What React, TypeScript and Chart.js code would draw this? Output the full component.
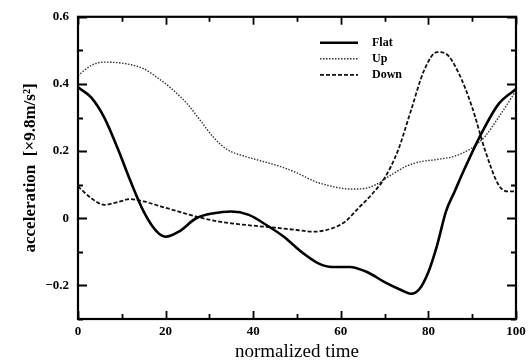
import React, { useEffect, useRef } from "react";
import { Chart, registerables } from "chart.js";

Chart.register(...registerables);

// ---- data ----
const flatT = [0, 3, 6, 9, 12, 15, 18, 20, 23, 27, 31, 35, 39, 43, 47, 51, 55, 58, 62, 66, 70, 74, 76, 78, 80, 82, 84, 86, 88, 92, 96, 100];
const flatV = [0.39, 0.36, 0.3, 0.21, 0.11, 0.02, -0.04, -0.055, -0.04, 0.0, 0.015, 0.02, 0.01, -0.02, -0.055, -0.1, -0.135, -0.145, -0.145, -0.16, -0.19, -0.215, -0.225, -0.21, -0.16, -0.08, 0.02, 0.08, 0.14, 0.25, 0.34, 0.385];

const upT = [0, 3, 6, 11, 15, 18, 21, 25, 28, 31, 34, 38, 42, 46, 50, 54, 58, 62, 65, 68, 71, 75, 78, 82, 86, 90, 93, 96, 100];
const upV = [0.425, 0.455, 0.465, 0.46, 0.445, 0.42, 0.39, 0.34, 0.29, 0.24, 0.205, 0.185, 0.17, 0.155, 0.135, 0.11, 0.095, 0.087, 0.088, 0.1, 0.125, 0.155, 0.168, 0.175, 0.185, 0.21, 0.245, 0.3, 0.38];

const downT = [0, 3, 6, 9, 12, 15, 19, 23, 27, 31, 35, 40, 45, 50, 54, 58, 61, 64, 67, 70, 73, 76, 79, 82, 84, 87, 90, 93, 96, 98, 100];
const downV = [0.095, 0.06, 0.04, 0.048, 0.057, 0.05, 0.035, 0.02, 0.005, -0.007, -0.015, -0.022, -0.028, -0.035, -0.04, -0.03, -0.01, 0.03, 0.07, 0.12, 0.2, 0.32, 0.44, 0.495, 0.49, 0.43, 0.33, 0.2, 0.1, 0.08, 0.08];

const seriesNames = ["Flat", "Up", "Down"];
const xTickLabels = [0, 20, 40, 60, 80, 100];
const yTickLabels = [-0.2, 0, 0.2, 0.4, 0.6];
const xMinorTicks = [0, 10, 20, 30, 40, 50, 60, 70, 80, 90, 100];
const yMinorTicks = [-0.3, -0.2, -0.1, 0, 0.1, 0.2, 0.3, 0.4, 0.5, 0.6];

const FONT = "'Liberation Serif', 'DejaVu Serif', serif";

const toPts = (t: number[], v: number[]) => t.map((x, i) => ({ x, y: v[i] }));

const framePlugin = {
  id: "frameTicks",
  afterDraw(chart: any) {
    const { ctx, chartArea } = chart;
    const { left, right, top, bottom } = chartArea;
    const xs = chart.scales.x;
    const ys = chart.scales.y;
    ctx.save();
    ctx.strokeStyle = "#000";
    ctx.lineWidth = 2.2;
    ctx.strokeRect(left, top, right - left, bottom - top);
    ctx.lineWidth = 1.8;
    ctx.beginPath();
    xMinorTicks.forEach((t) => {
      const major = t % 20 === 0;
      const len = major ? 8 : 5;
      const px = Math.round(xs.getPixelForValue(t)) + 0.5;
      ctx.moveTo(px, bottom);
      ctx.lineTo(px, bottom - len);
      ctx.moveTo(px, top);
      ctx.lineTo(px, top + len);
    });
    yMinorTicks.forEach((v) => {
      const major = Math.abs(Math.round(v * 10)) % 2 === 0;
      const len = major ? 9 : 5;
      const py = Math.round(ys.getPixelForValue(v)) + 0.5;
      ctx.moveTo(left, py);
      ctx.lineTo(left + len, py);
      ctx.moveTo(right, py);
      ctx.lineTo(right - len, py);
    });
    ctx.stroke();

    // legend
    const lx0 = left + 242;
    const lx1 = left + 280;
    const tx = left + 294;
    const rowY = [top + 26, top + 42, top + 58];
    chart.data.datasets.forEach((ds: any, i: number) => {
      ctx.beginPath();
      ctx.setLineDash(ds.borderDash || []);
      ctx.lineWidth = ds.borderWidth;
      ctx.strokeStyle = ds.borderColor;
      ctx.moveTo(lx0, rowY[i]);
      ctx.lineTo(lx1, rowY[i]);
      ctx.stroke();
      ctx.setLineDash([]);
      ctx.fillStyle = "#000";
      ctx.font = `bold 12px ${FONT}`;
      ctx.textBaseline = "middle";
      ctx.textAlign = "left";
      ctx.fillText(seriesNames[i], tx, rowY[i]);
    });
    ctx.restore();
  },
};

export default function App() {
  const ref = useRef<HTMLCanvasElement | null>(null);
  useEffect(() => {
    if (!ref.current) return;
    const chart = new Chart(ref.current, {
      type: "line",
      data: {
        datasets: [
          {
            label: seriesNames[0],
            data: toPts(flatT, flatV),
            borderColor: "#000",
            borderWidth: 2.6,
            pointRadius: 0,
            cubicInterpolationMode: "monotone",
            fill: false,
          },
          {
            label: seriesNames[1],
            data: toPts(upT, upV),
            borderColor: "#333",
            borderWidth: 1.4,
            borderDash: [1.5, 1.5],
            pointRadius: 0,
            cubicInterpolationMode: "monotone",
            fill: false,
          },
          {
            label: seriesNames[2],
            data: toPts(downT, downV),
            borderColor: "#111",
            borderWidth: 1.8,
            borderDash: [4, 2],
            pointRadius: 0,
            cubicInterpolationMode: "monotone",
            fill: false,
          },
        ],
      },
      options: {
        animation: false,
        responsive: true,
        maintainAspectRatio: false,
        layout: { padding: { top: 8, right: 15, left: 0, bottom: 0 } },
        plugins: { legend: { display: false }, tooltip: { enabled: false } },
        scales: {
          x: {
            type: "linear",
            min: 0,
            max: 100,
            grid: { display: false, drawTicks: false },
            border: { display: false },
            afterBuildTicks: (s: any) => {
              s.ticks = xTickLabels.map((v) => ({ value: v }));
            },
            afterFit: (s: any) => {
              s.height = 44;
            },
            ticks: {
              color: "#000",
              padding: 5,
              maxRotation: 0,
              font: { family: FONT, size: 13, weight: "bold" },
              callback: (v: any) => String(v),
            },
            title: {
              display: true,
              text: "normalized time",
              color: "#000",
              font: { family: FONT, size: 19 },
              padding: { top: 0, bottom: 0 },
            },
          },
          y: {
            type: "linear",
            min: -0.3,
            max: 0.6,
            grid: { display: false, drawTicks: false },
            border: { display: false },
            afterBuildTicks: (s: any) => {
              s.ticks = yTickLabels.map((v) => ({ value: v }));
            },
            afterFit: (s: any) => {
              s.width = 78;
            },
            ticks: {
              color: "#000",
              padding: 9,
              font: { family: FONT, size: 13, weight: "bold" },
              callback: (v: any) => {
                const n = Number(v);
                if (Math.abs(n) < 1e-9) return "0";
                const s = n.toFixed(1);
                return n < 0 ? "\u2212" + s.slice(1) : s;
              },
            },
            title: {
              display: true,
              text: "acceleration  [\u00d79.8m/s\u00b2]",
              color: "#000",
              font: { family: FONT, size: 17, weight: "bold" },
              padding: { top: 20, bottom: 0 },
            },
          },
        },
      },
      plugins: [framePlugin],
    } as any);
    return () => chart.destroy();
  }, []);
  return (
    <div style={{ position: "fixed", left: 0, top: 0, width: 531, height: 363, background: "#fff" }}>
      <canvas ref={ref} />
    </div>
  );
}
